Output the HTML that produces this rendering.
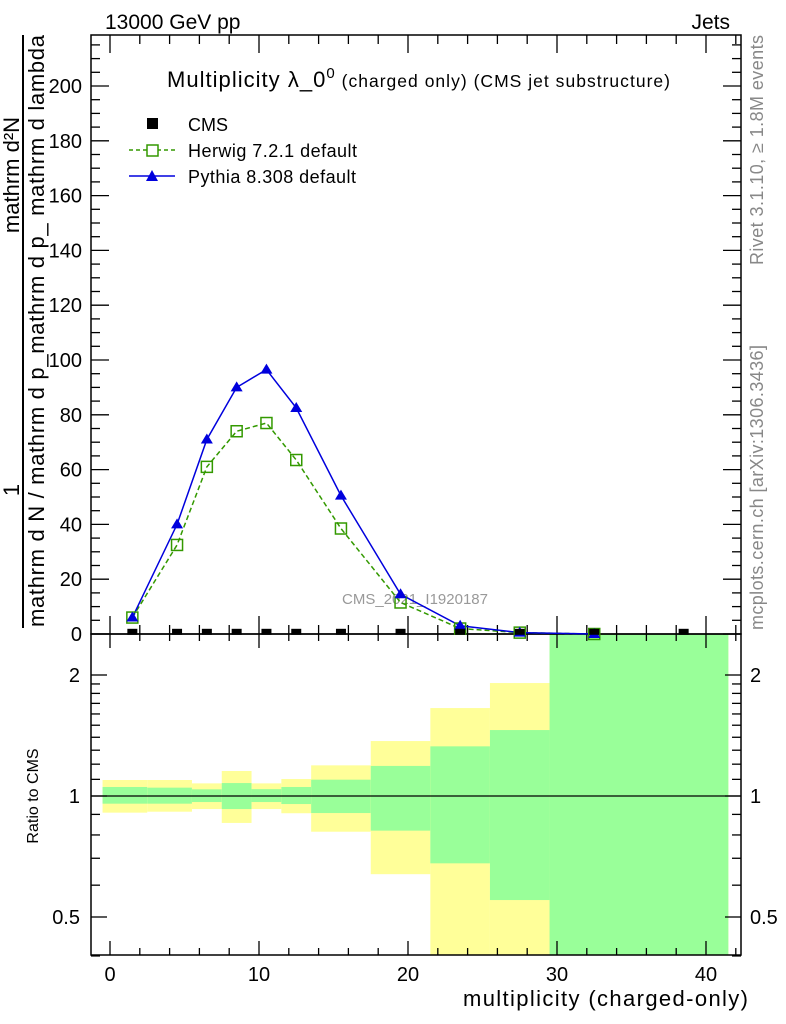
<!DOCTYPE html>
<html><head><meta charset="utf-8"><style>
html,body{margin:0;padding:0;background:#fff;}
svg{display:block;font-family:"Liberation Sans",sans-serif;}
</style></head><body>
<svg id="c" width="786" height="1024" xmlns="http://www.w3.org/2000/svg">
<text x="105" y="29" font-size="21">13000 GeV pp</text>
<text x="730" y="29" font-size="21" text-anchor="end">Jets</text>
<text x="167" y="87" font-size="22" textLength="503">Multiplicity λ_0<tspan font-size="15" dy="-9">0</tspan><tspan font-size="17.5" dy="9"> (charged only) (CMS jet substructure)</tspan></text>
<text transform="translate(763,35) rotate(-90)" font-size="18" fill="#888" text-anchor="end" textLength="230">Rivet 3.1.10, ≥ 1.8M events</text>
<text transform="translate(763,630) rotate(-90)" font-size="18" fill="#888" textLength="285">mcplots.cern.ch [arXiv:1306.3436]</text>
<line x1="23" y1="35" x2="23" y2="628" stroke="#000" stroke-width="2"/>
<text transform="translate(19,490) rotate(-90)" font-size="22" text-anchor="middle">1</text>
<text transform="translate(19,175) rotate(-90)" font-size="22" text-anchor="middle">mathrm d²N</text>
<text transform="translate(44,627) rotate(-90)" font-size="22" textLength="592">mathrm d N / mathrm d p_mathrm d p_ mathrm d lambda</text>
<text transform="translate(38,796) rotate(-90)" font-size="16" text-anchor="middle">Ratio to CMS</text>
<text x="748" y="1006" font-size="22" text-anchor="end" textLength="285">multiplicity (charged-only)</text>
<text x="415" y="604" font-size="15" fill="#999" text-anchor="middle">CMS_2021_I1920187</text>
<g id="g"></g>
<g>
<rect x="147" y="118" width="11" height="11" fill="#000"/>
<text x="188" y="131" font-size="18">CMS</text>
<line x1="129" y1="150" x2="175" y2="150" stroke="#339900" stroke-width="1.5" stroke-dasharray="4,3"/>
<rect x="147" y="145" width="11" height="11" fill="#fff" stroke="#339900" stroke-width="1.5"/>
<text x="188" y="157" font-size="18" textLength="169">Herwig 7.2.1 default</text>
<line x1="129" y1="176" x2="175" y2="176" stroke="#0000dd" stroke-width="1.5"/>
<path d="M146,181 L158,181 L152,170 Z" fill="#0000dd"/>
<text x="188" y="183" font-size="18" textLength="168">Pythia 8.308 default</text>
</g>
</svg>
<script>
const xCenters=[1.5,4.5,6.5,8.5,10.5,12.5,15.5,19.5,23.5,27.5,32.5,38.5];
const cmsVals=[0.8,0.8,0.8,0.8,0.8,0.8,0.8,0.8,0.8,0.8,0.8,0.8];
const mcX=[1.5,4.5,6.5,8.5,10.5,12.5,15.5,19.5,23.5,27.5,32.5];
const pythiaVals=[6,40,71,90,96.5,82.5,50.5,14.5,3,0.5,0];
const herwigVals=[6,32.5,61,74,77,63.5,38.5,11.5,2,0.5,0];
const binEdges=[-0.5,2.5,5.5,7.5,9.5,11.5,13.5,17.5,21.5,25.5,29.5,41.5];
const yellowHi=[1.096,1.096,1.075,1.154,1.075,1.102,1.192,1.370,1.655,1.910,5];
const yellowLo=[0.909,0.914,0.928,0.857,0.928,0.906,0.815,0.639,0.2,0.2,0.1];
const greenHi=[1.053,1.049,1.039,1.077,1.040,1.053,1.098,1.188,1.329,1.459,5];
const greenLo=[0.957,0.957,0.966,0.928,0.966,0.955,0.907,0.820,0.680,0.551,0.1];
const xTicks=[0,10,20,30,40];
const yTicks=[0,20,40,60,80,100,120,140,160,180,200];
const rTicks=[0.5,1,2];

const L=91,R=741,T=35,M=634,B=955;
const X=v=>110+(v)*14.9;
const Y=v=>634-v*2.74;
const RY=v=>796-Math.log2(v)*121;
const g=document.getElementById('g');
const NS='http://www.w3.org/2000/svg';
function mk(t,a){const e=document.createElementNS(NS,t);for(const k in a)e.setAttribute(k,a[k]);g.appendChild(e);return e;}
const clampR=y=>Math.max(M,Math.min(B,y));
for(let i=0;i<yellowHi.length;i++){
 const x1=X(binEdges[i]),x2=Math.min(X(binEdges[i+1]),R);
 let y1=clampR(RY(yellowHi[i])),y2=clampR(RY(yellowLo[i]));
 let e=mk('rect',{x:x1,y:y1,width:x2-x1,height:y2-y1,fill:'#ffff99'});
 
 
 y1=clampR(RY(greenHi[i]));y2=clampR(RY(greenLo[i]));
 e=mk('rect',{x:x1,y:y1,width:x2-x1,height:y2-y1,fill:'#99ff99'});
 
 
}
let e=mk('line',{x1:L,x2:R,y1:RY(1),y2:RY(1),stroke:'#000','stroke-width':1.3});


e=mk('rect',{x:L,y:T,width:R-L,height:M-T,fill:'none',stroke:'#000','stroke-width':1.5});


e=mk('rect',{x:L,y:M,width:R-L,height:B-M,fill:'none',stroke:'#000','stroke-width':1.5});


for(let v=-1;v<=42;v++){
 const x=X(v);if(x<L||x>R)continue;
 const maj=v%10===0, mid=v%2===0;
 if(!mid&&!maj)continue;
 const len=maj?18:9;
 mk('line',{x1:x,x2:x,y1:M,y2:M-len,stroke:'#000','stroke-width':1.3});
 mk('line',{x1:x,x2:x,y1:T,y2:T+len,stroke:'#000','stroke-width':1.3});
 mk('line',{x1:x,x2:x,y1:B,y2:B-(maj?14:7),stroke:'#000','stroke-width':1.3});
 mk('line',{x1:x,x2:x,y1:M,y2:M+(maj?14:7),stroke:'#000','stroke-width':1.3});
}
xTicks.forEach(v=>{const t=mk('text',{x:X(v),y:981,'font-size':20,'text-anchor':'middle'});t.textContent=v;
 
 });
for(let v=0;v<=215;v+=5){
 const y=Y(v);const len=v%20===0?18:9;
 mk('line',{x1:L,x2:L+len,y1:y,y2:y,stroke:'#000','stroke-width':1.3});
 mk('line',{x1:R,x2:R-len,y1:y,y2:y,stroke:'#000','stroke-width':1.3});
}
yTicks.forEach(v=>{const t=mk('text',{x:82,y:Y(v)+7,'font-size':20,'text-anchor':'end'});t.textContent=v;
 
 });
[0.4,0.5,0.6,0.7,0.8,0.9,1,1.1,1.2,1.3,1.4,1.5,1.6,1.7,1.8,1.9,2].forEach(v=>{
 const y=RY(v);const maj=rTicks.includes(v);const len=maj?16:9;
 mk('line',{x1:L,x2:L+len,y1:y,y2:y,stroke:'#000','stroke-width':1.3});
 mk('line',{x1:R,x2:R-len,y1:y,y2:y,stroke:'#000','stroke-width':1.3});
});
rTicks.forEach(v=>{
 let t=mk('text',{x:80,y:RY(v)+7,'font-size':20,'text-anchor':'end'});t.textContent=v;
 
 
 t=mk('text',{x:750,y:RY(v)+7,'font-size':20});t.textContent=v;
 
 
});
e=mk('polyline',{points:mcX.map((x,i)=>X(x)+','+Y(herwigVals[i])).join(' '),fill:'none',stroke:'#339900','stroke-width':1.5,'stroke-dasharray':'5,3'});


e=mk('polyline',{points:mcX.map((x,i)=>X(x)+','+Y(pythiaVals[i])).join(' '),fill:'none',stroke:'#0000dd','stroke-width':1.5});


mcX.forEach((x,i)=>{
 let m=mk('rect',{x:X(x)-5.5,y:Y(herwigVals[i])-5.5,width:11,height:11,fill:'none',stroke:'#339900','stroke-width':1.5});
 
 
 const px=X(x),py=Y(pythiaVals[i]);
 m=mk('path',{d:`M${px-6},${py+4} L${px+6},${py+4} L${px},${py-6} Z`,fill:'#0000dd'});
 
 
});
xCenters.forEach((x,i)=>{
 const m=mk('rect',{x:X(x)-5,y:Y(cmsVals[i])-3,width:10,height:6,fill:'#000'});
 
 
});
</script>
</body></html>
